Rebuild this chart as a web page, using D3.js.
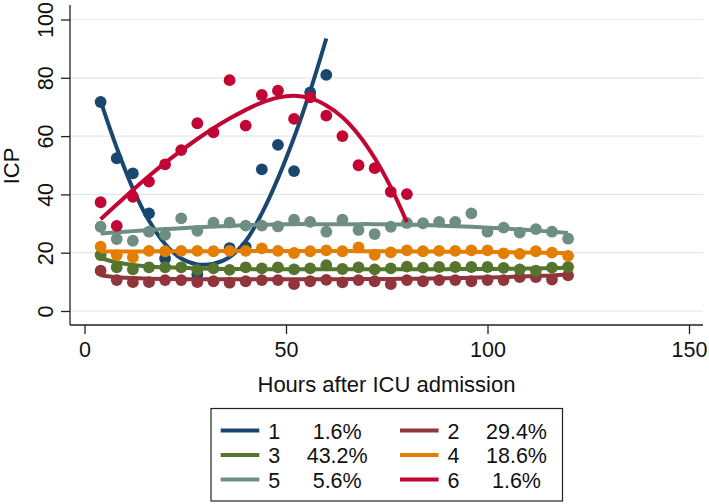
<!DOCTYPE html>
<html>
<head>
<meta charset="utf-8">
<script src="https://cdn.jsdelivr.net/npm/d3@7"></script>
<style>
  html, body { margin: 0; padding: 0; background: #fff; }
  svg { display: block; font-family: "Liberation Sans", Arial, sans-serif; }
</style>
</head>
<body>
<svg id="chart" width="709" height="504"></svg>
<script>
// ---------------- data ----------------
const hours = [4, 8, 12, 16, 20, 24, 28, 32, 36, 40, 44, 48, 52, 56, 60,
               64, 68, 72, 76, 80, 84, 88, 92, 96, 100, 104, 108, 112, 116, 120];

const groupNames = ["1", "2", "3", "4", "5", "6"];
const groupShares = ["1.6%", "29.4%", "43.2%", "18.6%", "5.6%", "1.6%"];
const groupColors = ["#1a476f", "#90353b", "#55752f", "#e37e00", "#6e8e84", "#c10534"];

// observed mean ICP per time point (null = not visible)
const obs1 = [71.7, 52.4, 47.2, 33.5, 18.0, null, 12.5, null, 21.6, 22.0, 48.6, 57.0, 48.0, 75.0, 81.0];
const obs2 = [13.8, 10.6, 9.9, 9.9, 10.6, 10.6, 9.9, 10.2, 9.7, 10.2, 10.6, 10.6, 9.2, 10.2, 10.7,
              9.8, 10.6, 10.2, 9.2, 10.6, 10.2, 10.6, 10.6, 10.2, 10.6, 10.6, 11.6, 11.6, 10.8, 12.2];
const obs3 = [19.2, 15.0, 14.3, 15.0, 15.0, 15.0, 14.1, 14.6, 14.1, 15.0, 14.6, 15.0, 14.3, 14.6, 15.7,
              14.4, 15.0, 14.3, 14.6, 15.2, 14.9, 15.1, 15.1, 15.1, 15.1, 14.8, 14.3, 13.8, 14.9, 15.1];
const obs4 = [22.1, 19.2, 18.4, 20.6, 20.5, 20.6, 20.6, 20.5, 20.6, 20.6, 21.5, 20.6, 19.9, 20.5, 20.8,
              20.5, 21.8, 19.3, 20.1, 20.8, 20.5, 20.6, 20.6, 20.8, 20.8, 19.8, 19.6, 20.5, 20.0, 18.9];
const obs5 = [28.9, 24.7, 24.1, 27.2, 26.1, 31.8, 27.5, 30.3, 30.3, 29.3, 29.3, 29.0, 31.3, 30.6, 27.2,
              31.3, 27.8, 26.4, 28.9, 30.2, 30.1, 30.6, 30.6, 33.5, 27.2, 28.6, 26.9, 28.1, 27.2, 24.8];
const obs6 = [37.3, 29.2, 39.2, 44.4, 50.3, 55.2, 64.4, 61.3, 79.2, 63.6, 74.1, 75.6, 65.9, 73.3, 67.0,
              60.0, 50.0, 49.0, 40.9, 40.1];

// fitted trajectories at the same time points
const fit1 = [72, 56, 42, 31, 23, 18, 16, 16.2, 18.5, 24, 33.5, 45.5, 59.5, 75.5, 93.5];
const fit2 = [12.3, 11.6, 11.3, 11.1, 11.0, 10.9, 10.9, 10.9, 10.9, 10.9, 10.9, 10.9, 10.9, 10.9, 10.9,
              10.9, 11.0, 11.0, 11.0, 11.1, 11.1, 11.2, 11.3, 11.4, 11.5, 11.6, 11.8, 12.0, 12.2, 12.6];
const fit3 = [18.1, 16.7, 15.8, 15.3, 15.0, 14.8, 14.6, 14.5, 14.4, 14.4, 14.3, 14.3, 14.3, 14.3, 14.3,
              14.3, 14.3, 14.3, 14.3, 14.3, 14.3, 14.3, 14.4, 14.4, 14.4, 14.5, 14.5, 14.6, 14.7, 14.8];
const fit4 = [20.4, 20.4, 20.4, 20.5, 20.5, 20.5, 20.5, 20.5, 20.6, 20.6, 20.6, 20.6, 20.6, 20.6, 20.6,
              20.6, 20.5, 20.5, 20.5, 20.5, 20.4, 20.4, 20.3, 20.3, 20.2, 20.2, 20.1, 20.0, 19.9, 19.8];
const fit5 = [26.6, 27.0, 27.4, 27.8, 28.1, 28.4, 28.7, 29.0, 29.2, 29.4, 29.6, 29.7, 29.8, 29.8, 29.8,
              29.8, 29.8, 29.8, 29.7, 29.7, 29.5, 29.3, 29.1, 28.9, 28.6, 28.3, 28.0, 27.6, 27.2, 26.8];
const fit6 = [31.5, 36.5, 41.5, 46.3, 50.8, 55, 59, 62.7, 66, 69, 71.5, 73.2, 73.8, 73, 70.5,
              66.5, 60.5, 52.5, 42.5, 30.5];

const xTicks = [0, 50, 100, 150];
const yTicks = [0, 20, 40, 60, 80, 100];
const xTitle = "Hours after ICU admission";
const yTitle = "ICP";

// ---------------- layout ----------------
const svg = d3.select("#chart");
const plot = { left: 70, right: 703, top: 5, bottom: 325 };
const x = d3.scaleLinear().domain([0, 150]).range([84.5, 689]);
const y = d3.scaleLinear().domain([0, 100]).range([311, 19.5]);
const fontSize = 21.5;
const textColor = "#111";

svg.append("rect").attr("width", 709).attr("height", 504).attr("fill", "#fff");

// gridlines
svg.append("g").selectAll("line").data(yTicks).join("line")
  .attr("x1", plot.left).attr("x2", plot.right)
  .attr("y1", d => y(d)).attr("y2", d => y(d))
  .attr("stroke", "#dfe8eb").attr("stroke-width", 1.2);

// x axis
const xAxis = svg.append("g").attr("transform", `translate(0,${plot.bottom})`)
  .call(d3.axisBottom(x).tickValues(xTicks).tickSize(9).tickPadding(8).tickFormat(d3.format("d")));
xAxis.select(".domain").attr("d", `M${plot.left},0H${plot.right}`).attr("stroke", "#222").attr("stroke-width", 1.3);
xAxis.selectAll(".tick line").attr("stroke", "#222").attr("stroke-width", 1.3);
xAxis.selectAll(".tick text").attr("font-size", fontSize).attr("fill", textColor)
  .attr("font-family", "Liberation Sans, Arial, sans-serif").attr("dy", "0.72em");

// y axis
const yAxis = svg.append("g").attr("transform", `translate(${plot.left},0)`)
  .call(d3.axisLeft(y).tickValues(yTicks).tickSize(9).tickFormat(d3.format("d")));
yAxis.select(".domain").attr("d", `M0,${plot.top}V${plot.bottom}`).attr("stroke", "#222").attr("stroke-width", 1.3);
yAxis.selectAll(".tick line").attr("stroke", "#222").attr("stroke-width", 1.3);
yAxis.selectAll(".tick text")
  .attr("font-size", fontSize).attr("fill", textColor)
  .attr("font-family", "Liberation Sans, Arial, sans-serif")
  .attr("x", null).attr("dy", null)
  .attr("text-anchor", "middle")
  .attr("transform", "translate(-17,0) rotate(-90)");

// axis titles
svg.append("text").attr("x", (plot.left + plot.right) / 2).attr("y", 392)
  .attr("text-anchor", "middle").attr("font-size", 22).attr("fill", textColor).text(xTitle);
svg.append("text").attr("transform", `translate(18.5,${(plot.top + plot.bottom) / 2 + 1}) rotate(-90)`)
  .attr("text-anchor", "middle").attr("font-size", 22).attr("fill", textColor).text(yTitle);

// series
const observed = [obs1, obs2, obs3, obs4, obs5, obs6];
const fitted = [fit1, fit2, fit3, fit4, fit5, fit6];
const line = d3.line()
  .defined(d => d.v != null)
  .x(d => x(d.h)).y(d => y(d.v))
  .curve(d3.curveCatmullRom.alpha(0.5));

const series = svg.append("g");
observed.forEach((obs, i) => {
  const pts = obs.map((v, j) => ({ h: hours[j], v })).filter(d => d.v != null);
  const g = series.append("g");
  g.selectAll("circle").data(pts).join("circle")
    .attr("cx", d => x(d.h)).attr("cy", d => y(d.v)).attr("r", 5.9)
    .attr("fill", groupColors[i]);
  const fpts = fitted[i].map((v, j) => ({ h: hours[j], v }));
  g.append("path").datum(fpts).attr("d", line)
    .attr("fill", "none").attr("stroke", groupColors[i])
    .attr("stroke-width", 4).attr("stroke-linecap", "butt");
});

// legend
const lg = svg.append("g");
lg.append("rect").attr("x", 211).attr("y", 408.5).attr("width", 351.5).attr("height", 92.5)
  .attr("fill", "#fff").attr("stroke", "#222").attr("stroke-width", 1.2);
const colX = [220.7, 400];
const rowY = [430.5, 455, 479.5];
groupNames.forEach((name, i) => {
  const col = i % 2, row = Math.floor(i / 2);
  const cx = colX[col], cy = rowY[row];
  lg.append("line").attr("x1", cx).attr("x2", cx + 38.6).attr("y1", cy).attr("y2", cy)
    .attr("stroke", groupColors[i]).attr("stroke-width", 4);
  lg.append("text").attr("x", cx + 47.5).attr("y", cy + 8).attr("font-size", fontSize)
    .attr("fill", textColor).text(name);
  lg.append("text").attr("x", cx + 116.5).attr("y", cy + 8).attr("font-size", fontSize)
    .attr("text-anchor", "middle").attr("fill", textColor).text(groupShares[i]);
});
</script>
</body>
</html>
